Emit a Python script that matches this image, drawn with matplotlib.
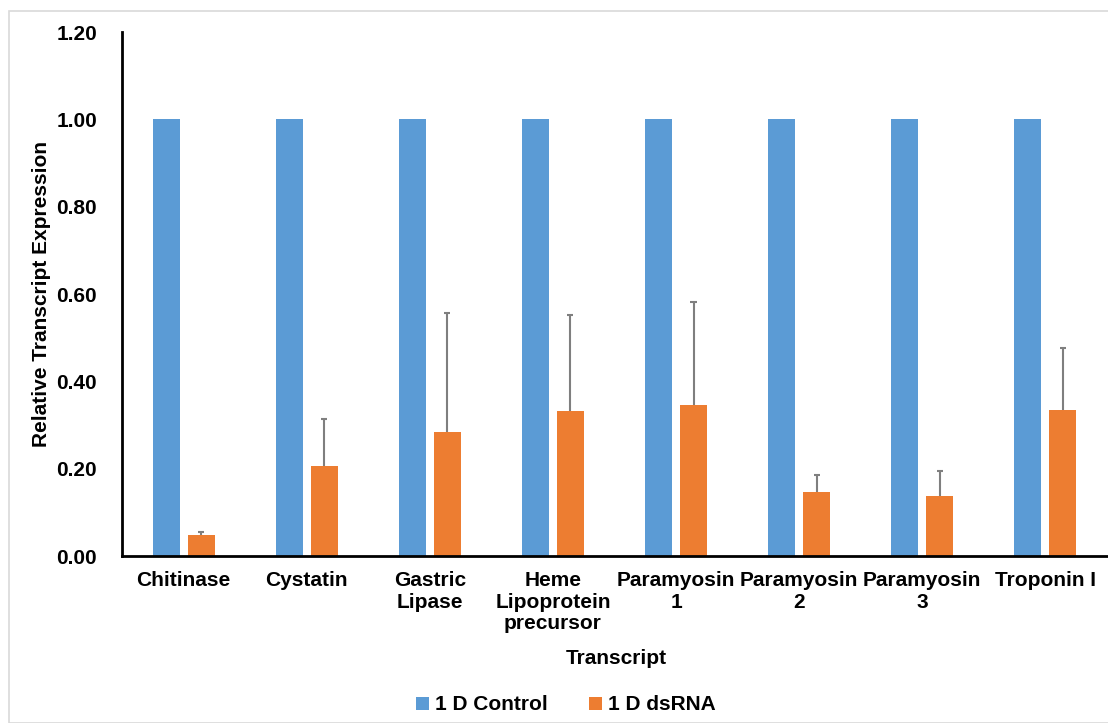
import matplotlib
matplotlib.use("Agg")
import matplotlib.pyplot as plt
from matplotlib.patches import Rectangle
import numpy as np

# Data
transcripts = ["Chitinase", "Cystatin", "Gastric\nLipase", "Heme\nLipoprotein\nprecursor",
               "Paramyosin\n1", "Paramyosin\n2", "Paramyosin\n3", "Troponin I"]
control = [1.0, 1.0, 1.0, 1.0, 1.0, 1.0, 1.0, 1.0]
dsrna = [0.048, 0.206, 0.284, 0.332, 0.346, 0.146, 0.137, 0.334]
dsrna_err = [0.007, 0.107, 0.272, 0.221, 0.235, 0.039, 0.058, 0.142]

BLUE = "#5B9BD5"
ORANGE = "#ED7D31"
ERR_COLOR = "#7f7f7f"
FS = 15

plt.rcParams["font.family"] = ["Liberation Sans", "DejaVu Sans"]
plt.rcParams["font.weight"] = "bold"

fig = plt.figure(figsize=(11.08, 7.23), dpi=100)
ax = fig.add_axes([122 / 1108, 1 - 556 / 723, (1107 - 122) / 1108, (556 - 32) / 723])

# light frame around the chart area
fig.patches.append(Rectangle((9 / 1108, 0), 1.2, 1 - 11 / 723, transform=fig.transFigure,
                             fill=False, edgecolor="#d9d9d9", linewidth=1.2))

x = np.arange(len(transcripts))
width = 0.22
offset = 0.142

ax.bar(x - offset, control, width, color=BLUE, label="1 D Control", zorder=2)
ax.bar(x + offset, dsrna, width, color=ORANGE, label="1 D dsRNA", zorder=2)

# upper-only error bars
tops = np.array(dsrna) + np.array(dsrna_err)
ax.vlines(x + offset, dsrna, tops, color=ERR_COLOR, linewidth=1.5, zorder=3)
ax.hlines(tops, x + offset - 0.025, x + offset + 0.025, color=ERR_COLOR, linewidth=1.5, zorder=3)

ax.set_xlim(-0.5, len(transcripts) - 0.5)
ax.set_ylim(0, 1.2)
ax.set_yticks(np.arange(0, 1.21, 0.2))
ax.set_yticklabels([f"{v:.2f}" for v in np.arange(0, 1.21, 0.2)])
ax.set_xticks(x)
ax.set_xticklabels(transcripts, linespacing=1.15)
ax.tick_params(axis="y", length=0, pad=18, labelsize=FS)
ax.tick_params(axis="x", length=0, pad=11, labelsize=FS)

for side in ["top", "right"]:
    ax.spines[side].set_visible(False)
for side in ["left", "bottom"]:
    ax.spines[side].set_linewidth(2)
    ax.spines[side].set_color("black")

ax.set_ylabel("Relative Transcript Expression", fontsize=FS, fontweight="bold", labelpad=4)
fig.text(616 / 1108, 1 - 658 / 723, "Transcript", ha="center", va="center",
         fontsize=FS, fontweight="bold")

fig.legend(loc="center", bbox_to_anchor=(566 / 1108, 1 - 705 / 723), ncol=2, frameon=False,
           fontsize=FS, handlelength=0.6, handleheight=0.6, handletextpad=0.3,
           columnspacing=2.0)

fig.savefig("out.png", dpi=100, facecolor="white")
